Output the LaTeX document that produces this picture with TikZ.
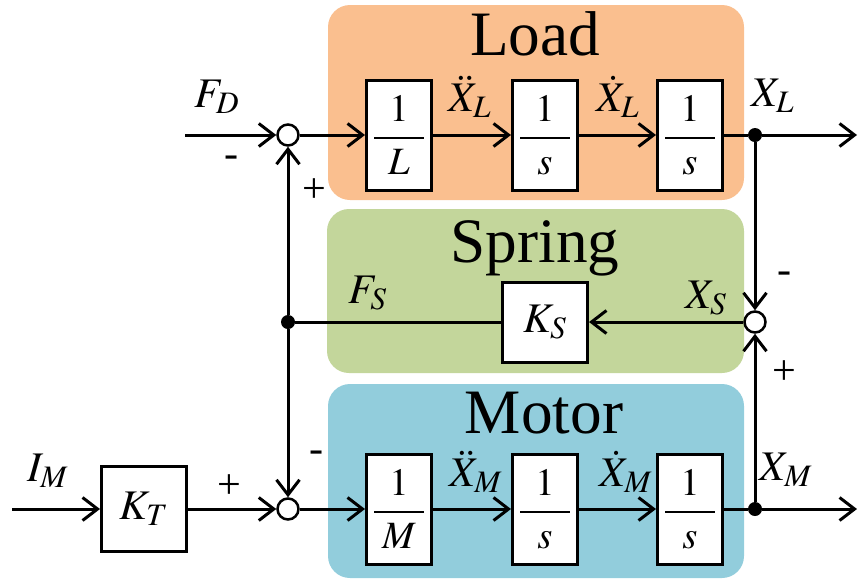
\documentclass[tikz,border=0pt]{standalone}
\usepackage{amsmath}
\usepackage{mathptmx}
\usepackage[no-math]{fontspec}
\setmainfont{Liberation Serif}
\usepackage{tikz}
\usetikzlibrary{arrows.meta,positioning}
\definecolor{loadbg}{HTML}{FABF8F}
\definecolor{springbg}{HTML}{C3D69B}
\definecolor{motorbg}{HTML}{92CDDC}
\newcommand{\onebar}[1]{\dfrac{\makebox[10mm]{$1$}}{#1}}

\begin{document}
\begin{tikzpicture}[x=0.2mm,y=-0.2mm,
  panel/.style={rounded corners=4.4mm},
  blk/.style={draw,line width=0.6mm,fill=white,minimum width=13mm,
              minimum height=22mm,inner sep=0pt,font=\fontsize{22}{24}\selectfont},
  gain/.style={draw,line width=0.6mm,fill=white,inner sep=0pt,
              font=\fontsize{24}{26}\selectfont},
  sum/.style={circle,draw,line width=0.5mm,fill=white,minimum size=4.2mm,inner sep=0pt},
  dot/.style={circle,fill,minimum size=2.8mm,inner sep=0pt},
  title/.style={font=\fontsize{36}{40}\selectfont,anchor=base,inner sep=0pt},
  lbl/.style={font=\fontsize{24}{26}\selectfont,inner sep=0pt},
  line/.style={line width=0.6mm},
  arr/.style={line,-{Straight Barb[length=3mm,width=4.6mm]}}]
\useasboundingbox (0,0) rectangle (859,582);
\fill[loadbg,panel] (328,5) rectangle (744,200);
\fill[springbg,panel] (327,209) rectangle (744,373);
\fill[motorbg,panel] (328,384) rectangle (744,578);
\node[title] (tload) at (535,55) {Load};
\node[title] (tspring) at (535,262) {Spring};
\node[title] (tmotor) at (544,433) {Motor};

\node[sum] (sumL) at (288,135) {};
\node[blk] (l1) at (399,135) {$\onebar{L}$};
\node[blk] (l2) at (545,135) {$\onebar{s}$};
\node[blk] (l3) at (690,135) {$\onebar{s}$};
\node[dot] (xl) at (755,135) {};
\coordinate (fd) at (185,135);
\coordinate (outL) at (857,135);

\node[sum] (sumS) at (755,322) {};
\node[gain,minimum width=17mm,minimum height=16mm] (ks) at (545,322) {$K_S$};
\node[dot] (fs) at (288,322) {};

\node[sum] (sumM) at (288,509) {};
\node[gain,minimum size=17mm] (kt) at (144,509) {$K_T$};
\node[blk] (m1) at (399,509) {$\onebar{M}$};
\node[blk] (m2) at (545,509) {$\onebar{s}$};
\node[blk] (m3) at (690,509) {$\onebar{s}$};
\node[dot] (xm) at (755,509) {};
\coordinate (im) at (12,509);
\coordinate (outM) at (857,509);

\node[lbl] (lfd) at (217,97) {$F_D$};
\node[lbl] (lxl2) at (470,97) {$\ddot{X}_L$};
\node[lbl] (lxl1) at (618,97) {$\dot{X}_L$};
\node[lbl] (lxl) at (773,96) {$X_L$};
\node[lbl] (lxs) at (706,298) {$X_S$};
\node[lbl] (lfs) at (368,293) {$F_S$};
\node[lbl] (lim) at (48,471) {$I_M$};
\node[lbl] (lxm2) at (476,472) {$\ddot{X}_M$};
\node[lbl] (lxm1) at (626,472) {$\dot{X}_M$};
\node[lbl] (lxm) at (786,470) {$X_M$};
\node[lbl] (sfd) at (232,162) {-};
\node[lbl] (sfsL) at (314,191) {+};
\node[lbl] (sxl) at (785,278) {-};
\node[lbl] (sxm) at (784,373) {+};
\node[lbl] (skt) at (229,487) {+};
\node[lbl] (sfsM) at (317,457) {-};

\draw[arr] (fd) -- (sumL);
\draw[arr] (sumL) -- (l1);
\draw[arr] (l1) -- (l2);
\draw[arr] (l2) -- (l3);
\draw[line] (l3) -- (xl);
\draw[arr] (xl) -- (outL);
\draw[arr] (xl) -- (sumS);
\draw[arr] (xm) -- (sumS);
\draw[arr] (sumS) -- (ks);
\draw[line] (ks) -- (fs);
\draw[arr] (fs) -- (sumL);
\draw[arr] (fs) -- (sumM);
\draw[arr] (im) -- (kt);
\draw[arr] (kt) -- (sumM);
\draw[arr] (sumM) -- (m1);
\draw[arr] (m1) -- (m2);
\draw[arr] (m2) -- (m3);
\draw[line] (m3) -- (xm);
\draw[arr] (xm) -- (outM);
\end{tikzpicture}
\end{document}
